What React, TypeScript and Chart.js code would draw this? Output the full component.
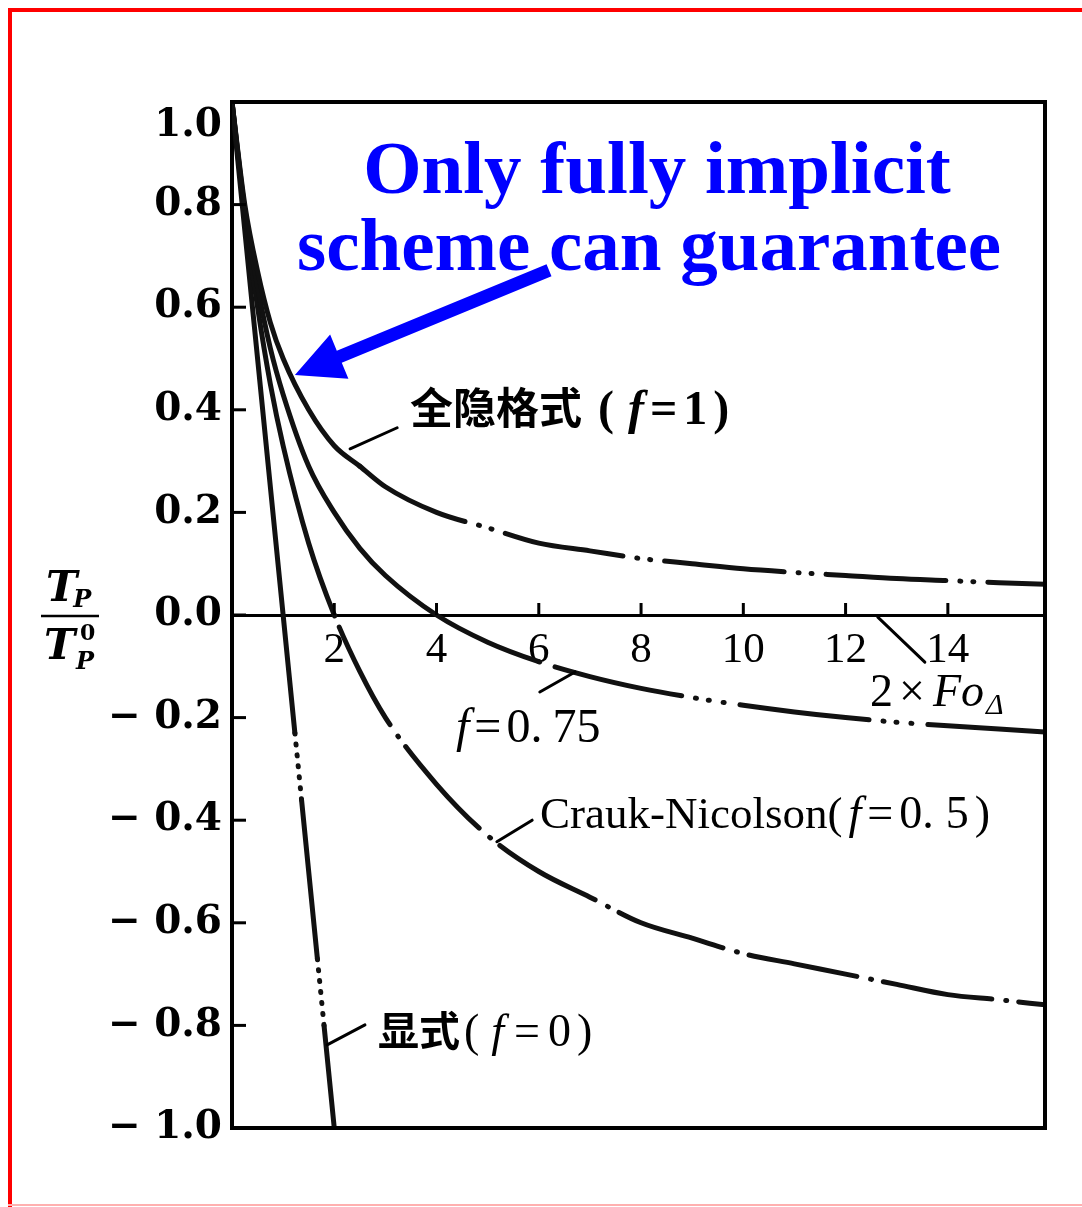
import React, { useEffect, useRef } from 'react';
import { Chart, registerables } from 'chart.js';

Chart.register(...registerables);

// ---- tick values / labels ----
const xTickValues = [2, 4, 6, 8, 10, 12, 14];
const yTickValues = [1.0, 0.8, 0.6, 0.4, 0.2, 0, -0.2, -0.4, -0.6, -0.8, -1.0];
const yTickLabels = ['1.0', '0.8', '0.6', '0.4', '0.2', '0.0', '− 0.2', '− 0.4', '− 0.6', '− 0.8', '− 1.0'];

// ---- series (x = 2×Fo, y = Tp/Tp0) ----
const implicitX = [0, 0.25, 0.5, 0.75, 1, 1.5, 2, 2.5, 3, 4, 5, 6, 7, 8, 9, 10, 11, 12, 13, 14, 15, 15.9];
const implicitY = [1.0, 0.8, 0.67, 0.57, 0.5, 0.4, 0.33, 0.29, 0.25, 0.2, 0.17, 0.14, 0.125, 0.11, 0.1, 0.09, 0.083, 0.077, 0.071, 0.067, 0.063, 0.06];

const f075X = [0, 0.25, 0.5, 0.75, 1, 1.5, 2, 2.5, 3, 4, 5, 6, 7, 8, 9, 10, 11, 12, 13, 14, 15, 15.9];
const f075Y = [1.0, 0.79, 0.64, 0.52, 0.43, 0.29, 0.2, 0.13, 0.077, 0, -0.053, -0.091, -0.12, -0.143, -0.161, -0.176, -0.189, -0.2, -0.209, -0.216, -0.222, -0.228];

const cnX = [0, 0.25, 0.5, 0.75, 1, 1.5, 2, 2.5, 3, 4, 5, 6, 7, 8, 9, 10, 11, 12, 13, 14, 15, 15.9];
const cnY = [1.0, 0.78, 0.6, 0.45, 0.33, 0.14, 0, -0.11, -0.2, -0.33, -0.43, -0.5, -0.55, -0.6, -0.63, -0.66, -0.68, -0.7, -0.72, -0.74, -0.75, -0.76];

const explicitX = [0, 1, 1.23, 1.36, 1.67, 1.8, 2];
const explicitY = [1.0, 0, -0.23, -0.36, -0.67, -0.8, -1.0];

const toPts = (xs: number[], ys: number[]) => xs.map((x, i) => ({ x, y: ys[i] }));

// ---- annotation anchors (data units) ----
const arrowTail = { x: 6.2, y: 0.672 };
const arrowTip = { x: 1.23, y: 0.468 };
const leaders = [
  [{ x: 2.31, y: 0.324 }, { x: 3.23, y: 0.365 }],
  [{ x: 6.02, y: -0.15 }, { x: 6.71, y: -0.111 }],
  [{ x: 5.18, y: -0.442 }, { x: 5.87, y: -0.4 }],
  [{ x: 12.63, y: -0.004 }, { x: 13.55, y: -0.092 }],
  [{ x: 1.86, y: -0.838 }, { x: 2.6, y: -0.799 }],
];

const SERIF = '"Liberation Serif", "Times New Roman", serif';
const CJK = '"Noto Sans CJK SC", sans-serif';
const DJ = '"DejaVu Serif", serif';

type Run = [string, string, number?, number?]; // text, font, dxBefore, dy

function drawRuns(ctx: CanvasRenderingContext2D, x: number, y: number, runs: Run[]) {
  let cx = x;
  for (const [t, f, dx = 0, dy = 0] of runs) {
    cx += dx;
    ctx.font = f;
    ctx.fillText(t, cx, y + dy);
    cx += ctx.measureText(t).width;
  }
}

const decor = {
  id: 'decor',
  afterDraw(chart: any) {
    const { ctx, chartArea: ca, scales } = chart;
    const xs = scales.x, ys = scales.y;
    const px = (v: number) => xs.getPixelForValue(v);
    const py = (v: number) => ys.getPixelForValue(v);
    ctx.save();

    // frame (top, right, bottom)
    ctx.strokeStyle = '#000';
    ctx.lineWidth = 4;
    ctx.lineCap = 'square';
    ctx.beginPath();
    ctx.moveTo(ca.left, ca.top);
    ctx.lineTo(ca.right, ca.top);
    ctx.lineTo(ca.right, ca.bottom);
    ctx.lineTo(ca.left, ca.bottom);
    ctx.stroke();

    // inward y tick marks
    ctx.lineWidth = 3;
    ctx.lineCap = 'butt';
    yTickValues.forEach((v) => {
      const yy = py(v);
      ctx.beginPath();
      ctx.moveTo(ca.left, yy);
      ctx.lineTo(ca.left + 14, yy);
      ctx.stroke();
    });
    // upward x tick marks on zero line
    xTickValues.forEach((v) => {
      const xx = px(v);
      ctx.beginPath();
      ctx.moveTo(xx, py(0));
      ctx.lineTo(xx, py(0) - 12);
      ctx.stroke();
    });

    // leader lines
    ctx.lineWidth = 3;
    ctx.lineCap = 'round';
    leaders.forEach(([a, b]) => {
      ctx.beginPath();
      ctx.moveTo(px(a.x), py(a.y));
      ctx.lineTo(px(b.x), py(b.y));
      ctx.stroke();
    });

    // labels
    ctx.fillStyle = '#000';
    ctx.textAlign = 'left';
    ctx.textBaseline = 'alphabetic';
    drawRuns(ctx, 410, 424, [
      ['全隐格式', `bold 43px ${CJK}`],
      ['(', `bold 48px ${SERIF}`, 16],
      ['f', `italic bold 48px ${SERIF}`, 14],
      ['=', `bold 48px ${SERIF}`, 6],
      ['1', `bold 48px ${SERIF}`, 6],
      [')', `bold 48px ${SERIF}`, 6],
    ]);
    drawRuns(ctx, 456, 742, [
      ['f', `italic 48px ${SERIF}`],
      ['=', `48px ${SERIF}`, 5],
      ['0.', `48px ${SERIF}`, 5],
      ['75', `48px ${SERIF}`, 10],
    ]);
    drawRuns(ctx, 540, 828, [
      ['Crauk-Nicolson(', `45px ${SERIF}`],
      ['f', `italic 46px ${SERIF}`, 6],
      ['=', `46px ${SERIF}`, 6],
      ['0.', `46px ${SERIF}`, 6],
      ['5', `46px ${SERIF}`, 12],
      [')', `46px ${SERIF}`, 6],
    ]);
    drawRuns(ctx, 870, 706, [
      ['2', `46px ${SERIF}`],
      ['×', `46px ${SERIF}`, 6],
      ['Fo', `italic 46px ${SERIF}`, 8],
      ['Δ', `italic 30px ${SERIF}`, 2, 8],
    ]);
    drawRuns(ctx, 378, 1046, [
      ['显式', `bold 41px ${CJK}`],
      ['(', `46px ${SERIF}`, 4],
      ['f', `italic 46px ${SERIF}`, 12],
      ['=', `46px ${SERIF}`, 10],
      ['0', `46px ${SERIF}`, 8],
      [')', `46px ${SERIF}`, 6],
    ]);

    // y-axis quantity label Tp / Tp0
    drawRuns(ctx, 46, 601, [['T', `italic bold 42px ${DJ}`], ['P', `italic bold 24px ${DJ}`, -4, 6]]);
    ctx.lineWidth = 2.5;
    ctx.lineCap = 'butt';
    ctx.beginPath();
    ctx.moveTo(41, 616);
    ctx.lineTo(99, 616);
    ctx.stroke();
    drawRuns(ctx, 44, 659, [['T', `italic bold 42px ${DJ}`]]);
    drawRuns(ctx, 80, 640, [['0', `bold 22px ${DJ}`]]);
    drawRuns(ctx, 76, 669, [['P', `italic bold 24px ${DJ}`]]);

    // blue annotation
    ctx.fillStyle = '#0000ff';
    ctx.textAlign = 'center';
    ctx.font = `bold 75px ${SERIF}`;
    ctx.fillText('Only fully implicit', 657, 193);
    ctx.fillText('scheme can guarantee', 649, 270);

    // blue arrow
    const tx = px(arrowTip.x), ty = py(arrowTip.y);
    const sx = px(arrowTail.x), sy = py(arrowTail.y);
    const dx = tx - sx, dy = ty - sy;
    const len = Math.hypot(dx, dy);
    const ux = dx / len, uy = dy / len;
    const nx = -uy, ny = ux;
    const headLen = 48, headW = 24, shaftW = 6.5;
    const bx = tx - ux * headLen, by = ty - uy * headLen;
    ctx.beginPath();
    ctx.moveTo(sx + nx * shaftW, sy + ny * shaftW);
    ctx.lineTo(bx + nx * shaftW, by + ny * shaftW);
    ctx.lineTo(bx + nx * headW, by + ny * headW);
    ctx.lineTo(tx, ty);
    ctx.lineTo(bx - nx * headW, by - ny * headW);
    ctx.lineTo(bx - nx * shaftW, by - ny * shaftW);
    ctx.lineTo(sx - nx * shaftW, sy - ny * shaftW);
    ctx.closePath();
    ctx.fill();

    // red outer border
    ctx.fillStyle = '#ff0000';
    ctx.fillRect(8, 8, 4, 1199);
    ctx.fillRect(8, 8, 1074, 4);
    ctx.fillStyle = '#ffb0b0';
    ctx.fillRect(8, 1204, 1074, 2);
    ctx.restore();
  },
};

export default function App() {
  const ref = useRef<HTMLCanvasElement>(null);

  useEffect(() => {
    const line = (pts: any[], extra: any) => ({
      type: 'line',
      data: pts,
      borderColor: '#111',
      borderWidth: 5,
      pointRadius: 0,
      fill: false,
      borderCapStyle: 'round',
      borderJoinStyle: 'round',
      ...extra,
    });

    const chart = new Chart(ref.current as HTMLCanvasElement, {
      type: 'line',
      data: {
        datasets: [
          line(toPts(implicitX, implicitY), {
            label: 'f=1',
            cubicInterpolationMode: 'monotone',
            segment: { borderDash: (c: any) => (c.p0.parsed.x >= 2.5 ? [120, 14, 1, 12, 1, 14] : undefined) },
          }),
          line(toPts(f075X, f075Y), {
            label: 'f=0.75',
            cubicInterpolationMode: 'monotone',
            segment: { borderDash: (c: any) => (c.p0.parsed.x >= 6 ? [1, 16, 130, 14, 1, 12, 1, 14] : undefined) },
          }),
          line(toPts(cnX, cnY), {
            label: 'Crank-Nicolson',
            cubicInterpolationMode: 'monotone',
            segment: { borderDash: (c: any) => (c.p0.parsed.x >= 2 ? [1, 12, 110, 14] : undefined) },
          }),
          line(toPts(explicitX, explicitY), {
            label: 'f=0',
            tension: 0,
            segment: { borderDash: (c: any) => (c.p0DataIndex === 2 || c.p0DataIndex === 4 ? [1, 10] : undefined) },
          }),
        ],
      } as any,
      options: {
        responsive: false,
        maintainAspectRatio: false,
        animation: false,
        devicePixelRatio: 1,
        layout: { padding: { left: 0, top: 102, right: 37, bottom: 79 } },
        plugins: { legend: { display: false }, tooltip: { enabled: false }, title: { display: false } },
        scales: {
          x: {
            type: 'linear',
            min: 0,
            max: 15.9,
            position: { y: 0 } as any,
            grid: { display: false, drawTicks: false },
            border: { display: true, color: '#000', width: 3 },
            afterBuildTicks: (s: any) => {
              s.ticks = xTickValues.map((v) => ({ value: v }));
            },
            ticks: {
              autoSkip: false,
              maxRotation: 0,
              padding: 10,
              color: '#000',
              font: { family: 'Liberation Serif', size: 43 },
              callback: (v: any) => String(v),
            },
          },
          y: {
            type: 'linear',
            min: -1,
            max: 1,
            position: 'left',
            grid: { display: false, drawTicks: false },
            border: { display: true, color: '#000', width: 4 },
            afterBuildTicks: (s: any) => {
              s.ticks = yTickValues.map((v) => ({ value: v }));
            },
            afterFit: (s: any) => {
              s.width = 232;
            },
            ticks: {
              autoSkip: false,
              padding: 10,
              color: '#000',
              font: { family: 'DejaVu Serif', size: 39, weight: 'bold' },
              // the top label sits a little below its tick in the original print
              callback: (_v: any, i: number) => (i === 0 ? ['', yTickLabels[i]] : yTickLabels[i]),
            },
          },
        },
      },
      plugins: [decor],
    } as any);

    return () => chart.destroy();
  }, []);

  return (
    <div style={{ position: 'fixed', left: 0, top: 0, width: 1082, height: 1207, background: '#fff' }}>
      <canvas ref={ref} width={1082} height={1207} style={{ display: 'block', width: 1082, height: 1207 }} />
    </div>
  );
}
